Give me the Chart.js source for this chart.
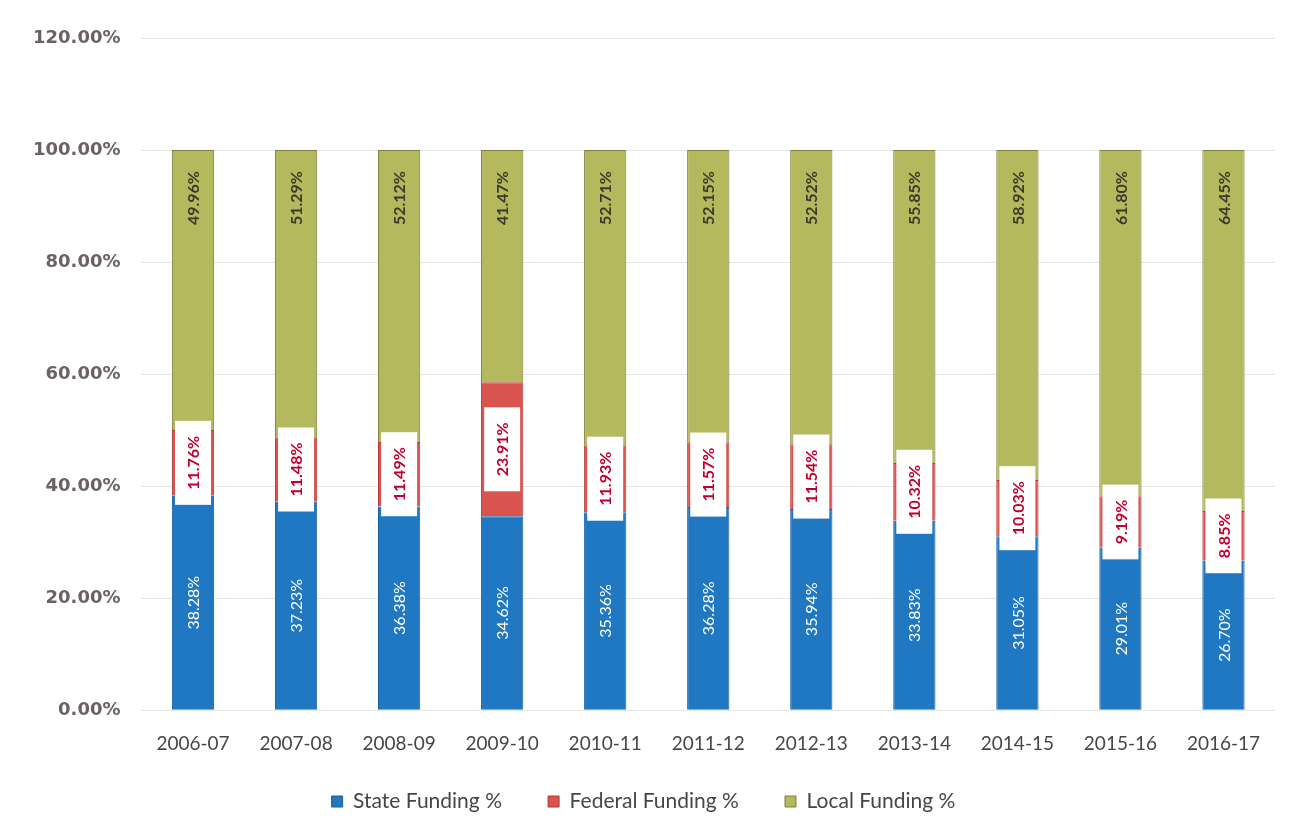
<!DOCTYPE html>
<html><head><meta charset="utf-8">
<script src="https://cdn.jsdelivr.net/npm/chart.js@4.4.0/dist/chart.umd.min.js"></script>
<style>
html,body{margin:0;padding:0;background:#fff;}
#wrap{width:1303px;height:839px;position:relative;}
</style></head>
<body><div id="wrap"><canvas id="c" width="1303" height="839"></canvas></div>
<script>
const categories = ['2006-07','2007-08','2008-09','2009-10','2010-11','2011-12','2012-13','2013-14','2014-15','2015-16','2016-17'];
const stateFunding = [38.28,37.23,36.38,34.62,35.36,36.28,35.94,33.83,31.05,29.01,26.70];
const federalFunding = [11.76,11.48,11.49,23.91,11.93,11.57,11.54,10.32,10.03,9.19,8.85];
const localFunding = [49.96,51.29,52.12,41.47,52.71,52.15,52.52,55.85,58.92,61.80,64.45];
const yTicks = [0,20,40,60,80,100,120];

const segLabels = {
  id:'segLabels',
  afterDatasetsDraw(chart){
    const ctx = chart.ctx;
    chart.data.datasets.forEach((ds,di)=>{
      const meta = chart.getDatasetMeta(di);
      meta.data.forEach((bar,i)=>{
        const p = bar.getProps(['x','y','base'],true);
        const txt = ds.data[i].toFixed(2)+'%';
        let cy;
        if(di===2) cy = p.y + 48; else cy = (p.y+p.base)/2;
        ctx.save();
        ctx.translate(p.x, cy);
        ctx.rotate(-Math.PI/2);
        ctx.textAlign='center'; ctx.textBaseline='middle';
        if(di===0){ ctx.font='16px Lato, "Open Sans", sans-serif'; ctx.fillStyle='#ffffff'; }
        else if(di===1){
          ctx.font='bold 16px Lato, "Open Sans", sans-serif';
          const w = ctx.measureText(txt).width + 30;
          ctx.fillStyle='#ffffff';
          ctx.fillRect(-w/2, -18, w, 36);
          ctx.fillStyle='#c0002e';
        } else { ctx.font='bold 16px Lato, "Open Sans", sans-serif'; ctx.fillStyle='#3b3a2a'; }
        ctx.fillText(txt,0,1);
        ctx.restore();
      });
    });
  }
};

new Chart(document.getElementById('c'),{
  type:'bar',
  data:{
    labels:categories,
    datasets:[
      {label:'State Funding %',data:stateFunding,backgroundColor:'#1f78c1',borderColor:'#1a5f9a',borderWidth:1},
      {label:'Federal Funding %',data:federalFunding,backgroundColor:'#d9534f',borderColor:'#b03a36',borderWidth:1},
      {label:'Local Funding %',data:localFunding,backgroundColor:'#b5b95e',borderColor:'#7d7f3a',borderWidth:1}
    ]
  },
  options:{
    responsive:false,animation:false,
    layout:{padding:{left:12,right:28,top:38,bottom:17}},
    datasets:{bar:{categoryPercentage:1,barPercentage:0.41}},
    scales:{
      x:{stacked:true,grid:{display:false},border:{display:false},
         afterFit(s){ s.height += 10; },
         ticks:{color:'#4a4448',font:{family:'Lato, "Open Sans", sans-serif',size:19},padding:14,maxRotation:0}},
      y:{stacked:true,min:0,max:120,afterBuildTicks(ax){ax.ticks=yTicks.map(v=>({value:v}));},
         grid:{color:'#e6e6e6',drawTicks:false},border:{display:false},
         ticks:{padding:21,color:'#6a6266',font:{family:'"DejaVu Sans", sans-serif',size:18,weight:'bold'},callback:v=>v.toFixed(2)+'%'}}
    },
    plugins:{
      tooltip:{enabled:false},
      legend:{position:'bottom',labels:{boxWidth:11,boxHeight:11,padding:12,color:'#4a4448',font:{family:'Lato, "Open Sans", sans-serif',size:21},
        generateLabels(chart){
          const items = Chart.defaults.plugins.legend.labels.generateLabels(chart);
          items.forEach((it,k)=>{ if(k<items.length-1) it.text = it.text + '\u2003\u2003\u2009'; });
          return items;
        }}}
    }
  },
  plugins:[segLabels]
});
</script></body></html>
